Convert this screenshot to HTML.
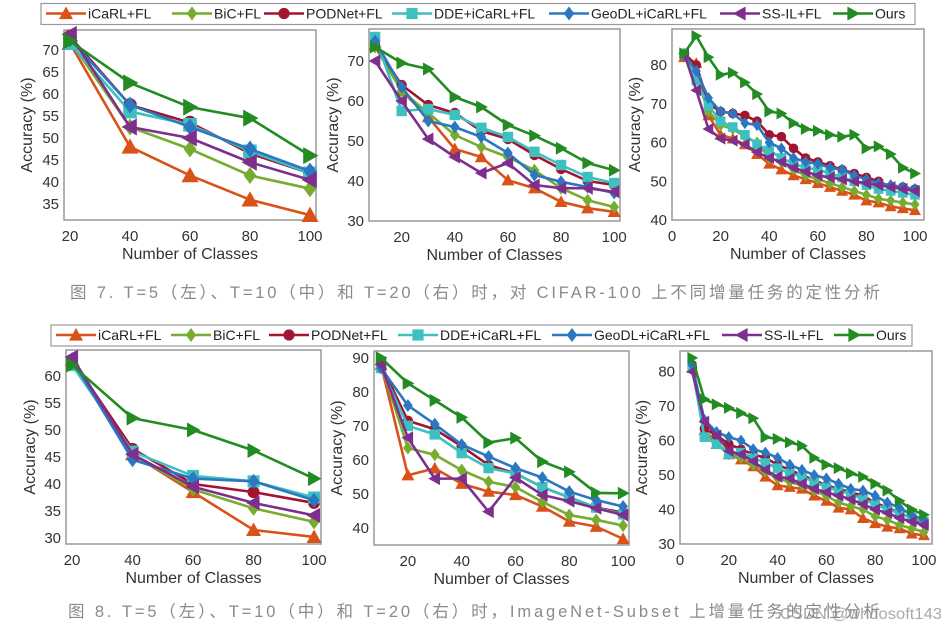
<!DOCTYPE html>
<html><head><meta charset="utf-8">
<style>
html,body{margin:0;padding:0;background:#fff;}
svg{display:block;font-family:"Liberation Sans",Arial,sans-serif;}
</style></head>
<body>
<svg id="fig" width="952" height="630" viewBox="0 0 952 630" xmlns="http://www.w3.org/2000/svg"></svg>
<script>
// ---- data: x categories ----
const x5 = [20,40,60,80,100];
const x10 = [10,20,30,40,50,60,70,80,90,100];
const x20 = [5,10,15,20,25,30,35,40,45,50,55,60,65,70,75,80,85,90,95,100];
const seriesNames = ["iCaRL+FL","BiC+FL","PODNet+FL","DDE+iCaRL+FL","GeoDL+iCaRL+FL","SS-IL+FL","Ours"];

// ---- Fig 7 left (CIFAR-100, T=5) ----
const c5Icarl = [71.5,48,41.5,36,32.5];
const c5Bic = [72,52.5,47.5,41.5,38.5];
const c5Pod = [73,57.5,53.5,46.5,42];
const c5Dde = [71.5,56,53,47,42];
const c5Geo = [72.5,57.5,52.5,47.5,42.5];
const c5Ss = [73.5,52.5,50,44.5,40.5];
const c5Ours = [72,62.5,57,54.5,46];
// ---- Fig 7 middle (T=10) ----
const c10Icarl = [74,62.5,56,48,46,40.2,38.2,34.8,33.2,32.3];
const c10Bic = [73.5,62.5,57,51.5,48.5,46,42.7,38.2,35.2,33.5];
const c10Pod = [74,64,59,57,52.5,50.5,46.5,43,40,39];
const c10Dde = [76,57.5,58,56.5,53.3,51,47.3,44,41,39.5];
const c10Geo = [75,63.5,55,53.5,51,47,41.5,39.8,38.5,37];
const c10Ss = [70,60,50.5,46,42,44.5,39,38.2,38.2,37.3];
const c10Ours = [73.5,69.5,68,61,58.5,54,51.3,48.2,44.5,42.7];
// ---- Fig 7 right (T=20) ----
const c20Icarl = [82,80.5,67,62,61,59.5,57,54.5,53,51.5,50.5,49.5,48.5,47.5,46.5,45,44.5,43.5,43,42.5];
const c20Bic = [83,77,68,64.5,63.5,61.5,60,56,55,53,51.5,50.5,49.5,48.5,47.5,46.5,45.5,45,44.5,44];
const c20Pod = [83,80,70,68,67.5,67,65.5,62,61.5,58.5,56,55,54,53,52,51,50,48.5,48.5,48];
const c20Dde = [83,76,69.5,65.5,64,62,59.5,58,56,54.5,53.5,53,52,51,50,49,48,47.5,47,46.5];
const c20Geo = [82.5,78.5,71.5,68,67.5,65,64.5,60,58.5,56,55,54.5,53.5,53,51.5,50.5,49.5,49,48.5,48];
const c20Ss = [83,73.5,63.5,61,60.5,59.5,57.5,56,55,53.5,52.5,51.5,51,50.5,50,49.5,49,48.5,48,47.5];
const c20Ours = [83,87.5,82,77.5,78,75.5,72.5,68,67.5,65,63.5,63,62,61.5,62,58.5,59,57,53.5,52];
// ---- Fig 8 left (ImageNet-Subset, T=5) ----
const i5Icarl = [63,45.5,38.5,31.5,30.2];
const i5Bic = [63,45.5,39,35.5,33];
const i5Pod = [63,46.5,40,38.5,36.5];
const i5Dde = [62,46,41.5,40.5,37.5];
const i5Geo = [63,44.5,41,40.5,37];
const i5Ss = [63.5,45.5,39.5,36.5,34.2];
const i5Ours = [62,52.2,50,46.2,41];
// ---- Fig 8 middle (T=10) ----
const i10Icarl = [88,55.5,57.5,53,50.7,49.7,46.3,41.9,40.4,36.8];
const i10Bic = [88,63.5,61.5,57,53.6,52,47.7,43.8,42.4,40.7];
const i10Pod = [88,71.5,69,64,58.5,56,52,49,46,44.5];
const i10Dde = [87,70,67.5,62,57.6,56,52,49,46,44];
const i10Geo = [87,76,70.5,64.5,61,57.6,54.8,50.7,48.2,46.3];
const i10Ss = [88,66.5,54.5,54.5,44.8,54.8,49.7,47.9,45.8,43.8];
const i10Ours = [90,82.5,77.5,72.5,65.1,66.4,59.5,56.5,50.3,50.2];
// ---- Fig 8 right (T=20) ----
const i20Icarl = [81,63,59,56,54.5,52.5,49.5,47,46.5,46,44,42.5,40.5,40,37.5,36,35,34.5,33,32.5];
const i20Bic = [81,63,59.5,56,55,53,51,49,48,47,45.5,44,42,41,40,38,37,35.5,34.5,33.5];
const i20Pod = [82,63.5,61.5,59,57.5,56,55,53,51.5,50,48.5,47,46,45,44,42,40.5,39,37.5,36];
const i20Dde = [81,61,59,56,56.5,55,53.5,52,50.5,49.5,48,46.5,45.5,44.5,43,41.5,40,39,37.5,36.5];
const i20Geo = [82,66,62.5,61,60,57.5,56.5,55,53,51.5,50,49,47.5,46,45.5,44,42,40.5,38.5,37];
const i20Ss = [80,65.5,61.5,57,56,54,51.5,49.5,49,47.5,46,45,44,43,41.5,40,39,37.5,36.5,35.5];
const i20Ours = [84,72,70.5,69.5,68,66.5,61,60.5,59.5,58.5,55,53,52,50.5,49.5,47.5,45.5,42.5,40,38.5];

// ---- tick labels ----
const ticksY_c5 = [35,40,45,50,55,60,65,70];
const ticksY_c10 = [30,40,50,60,70];
const ticksY_c20 = [40,50,60,70,80];
const ticksY_i5 = [30,35,40,45,50,55,60];
const ticksY_i10 = [40,50,60,70,80,90];
const ticksY_i20 = [30,40,50,60,70,80];
const ticksX_a = [20,40,60,80,100];
const ticksX_b = [0,20,40,60,80,100];

// ---- styles ----
const colors = ["#d95319","#77ac30","#a2142f","#3cc0c0","#2b77c0","#7e2f8e","#228b22"];
const markers = ["tri-up","diamond","circle","square","diamond","tri-left","tri-right"];

const NS = "http://www.w3.org/2000/svg";
const svg = document.getElementById("fig");
function mk(tag, attrs, parent){
  const e = document.createElementNS(NS, tag);
  for (const k in attrs) e.setAttribute(k, attrs[k]);
  (parent||svg).appendChild(e);
  return e;
}
function marker(type, cx, cy, s, color, parent){
  let e;
  if (type==="circle") e = mk("circle",{cx:cx,cy:cy,r:s*0.8,fill:color},parent);
  else if (type==="square") e = mk("rect",{x:cx-s*0.8,y:cy-s*0.8,width:s*1.6,height:s*1.6,fill:color},parent);
  else {
    let p;
    if (type==="tri-up") p=[[cx,cy-s],[cx+s,cy+s*0.8],[cx-s,cy+s*0.8]];
    else if (type==="diamond") p=[[cx,cy-s],[cx+s*0.75,cy],[cx,cy+s],[cx-s*0.75,cy]];
    else if (type==="tri-left") p=[[cx-s,cy],[cx+s*0.8,cy-s],[cx+s*0.8,cy+s]];
    else p=[[cx+s,cy],[cx-s*0.8,cy-s],[cx-s*0.8,cy+s]];
    e = mk("polygon",{points:p.map(q=>q.join(",")).join(" "),fill:color},parent);
  }
  
  
  return e;
}

function panel(cfg){
  const g = mk("g",{});
  
  
  const sx = v => cfg.L + (v-cfg.x0)/(cfg.x1-cfg.x0)*(cfg.R-cfg.L);
  const sy = v => cfg.B - (v-cfg.y0)/(cfg.y1-cfg.y0)*(cfg.B-cfg.T);
  const frame = mk("rect",{x:cfg.L,y:cfg.T,width:cfg.R-cfg.L,height:cfg.B-cfg.T,fill:"#fff",stroke:"#999","stroke-width":1.5},g);
  
  
  cfg.yt.forEach(v=>{
    const t = mk("text",{x:cfg.L-5,y:sy(v)+5,"text-anchor":"end","font-size":15,fill:"#333"},g);
    t.textContent = v;
    
    
  });
  cfg.xt.forEach(v=>{
    const t = mk("text",{x:sx(v),y:cfg.B+21,"text-anchor":"middle","font-size":15,fill:"#333"},g);
    t.textContent = v;
    
    
  });
  const xt = mk("text",{x:(cfg.L+cfg.R)/2,y:cfg.B+39,"text-anchor":"middle","font-size":16,fill:"#333"},g);
  xt.textContent = "Number of Classes";
  
  
  const yc = (cfg.T+cfg.B)/2;
  const yt = mk("text",{x:cfg.yx,y:yc,"text-anchor":"middle","font-size":16,fill:"#333",transform:`rotate(-90 ${cfg.yx} ${yc})`,"dominant-baseline":"middle"},g);
  yt.textContent = "Accuracy (%)";
  
  
  cfg.series.forEach((vals,i)=>{
    const sg = mk("g",{},g);
    
    
    const pts = vals.map((v,j)=>sx(cfg.xs[j])+","+sy(v)).join(" ");
    const pl = mk("polyline",{points:pts,fill:"none",stroke:colors[i],"stroke-width":2.6,"stroke-linejoin":"round"},sg);
    
    
    vals.forEach((v,j)=>marker(markers[i],sx(cfg.xs[j]),sy(v),cfg.ms,colors[i],sg));
  });
}

function legend(y, L, R, pos, name){
  const g = mk("g",{});
  
  
  const box = mk("rect",{x:L,y:y-10,width:R-L,height:21,fill:"#fff",stroke:"#999","stroke-width":1.2},g);
  
  
  seriesNames.forEach((n,i)=>{
    const eg = mk("g",{},g);
    
    
    const x = pos[i];
    mk("line",{x1:x,y1:y,x2:x+40,y2:y,stroke:colors[i],"stroke-width":2.6},eg);
    marker(markers[i],x+20,y,7,colors[i],eg);
    const t = mk("text",{x:x+42,y:y+5,"font-size":14,fill:"#222"},eg);
    t.textContent = n;
  });
}

const legPos = [46,172,264,392,549,720,833];
legend(13.5, 41, 915, legPos, "legend-top");
legend(335, 51, 912, [56,171,269,398,552,722,834], "legend-bottom");

panel({name:"cifar-t5-chart",L:64,R:316,T:30,B:220,x0:18,x1:102,y0:31.4,y1:74.5,xs:x5,yt:ticksY_c5,xt:ticksX_a,yx:28,ms:8.5,
  series:[c5Icarl,c5Bic,c5Pod,c5Dde,c5Geo,c5Ss,c5Ours]});
panel({name:"cifar-t10-chart",L:369,R:620,T:29,B:221,x0:7.7,x1:102.2,y0:30,y1:78,xs:x10,yt:ticksY_c10,xt:ticksX_a,yx:334,ms:6.5,
  series:[c10Icarl,c10Bic,c10Pod,c10Dde,c10Geo,c10Ss,c10Ours]});
panel({name:"cifar-t20-chart",L:672,R:924,T:29,B:220,x0:0,x1:103.7,y0:40,y1:89.3,xs:x20,yt:ticksY_c20,xt:ticksX_b,yx:636,ms:6,
  series:[c20Icarl,c20Bic,c20Pod,c20Dde,c20Geo,c20Ss,c20Ours]});
panel({name:"imagenet-t5-chart",L:66,R:321,T:350,B:544,x0:18,x1:102.3,y0:28.9,y1:64.8,xs:x5,yt:ticksY_i5,xt:ticksX_a,yx:31,ms:7.5,
  series:[i5Icarl,i5Bic,i5Pod,i5Dde,i5Geo,i5Ss,i5Ours]});
panel({name:"imagenet-t10-chart",L:374,R:629,T:351,B:545,x0:7.4,x1:102.2,y0:35,y1:92,xs:x10,yt:ticksY_i10,xt:ticksX_a,yx:338,ms:6.5,
  series:[i10Icarl,i10Bic,i10Pod,i10Dde,i10Geo,i10Ss,i10Ours]});
panel({name:"imagenet-t20-chart",L:680,R:932,T:351,B:544,x0:0,x1:103.3,y0:30,y1:86,xs:x20,yt:ticksY_i20,xt:ticksX_b,yx:643,ms:6,
  series:[i20Icarl,i20Bic,i20Pod,i20Dde,i20Geo,i20Ss,i20Ours]});

const cap1 = mk("text",{x:70,y:298,"font-size":16.5,fill:"#8a8a8a",textLength:810,lengthAdjust:"spacing","font-family":"\"Liberation Sans\",\"Noto Sans CJK SC\",sans-serif"});
cap1.textContent = "图 7. T=5（左）、T=10（中）和 T=20（右）时，对 CIFAR-100 上不同增量任务的定性分析";


const cap2 = mk("text",{x:68,y:617,"font-size":16.5,fill:"#8a8a8a",textLength:812,lengthAdjust:"spacing","font-family":"\"Liberation Sans\",\"Noto Sans CJK SC\",sans-serif"});
cap2.textContent = "图 8. T=5（左）、T=10（中）和 T=20（右）时，ImageNet-Subset 上增量任务的定性分析";


const wm = mk("text",{x:780,y:619,"font-size":16,fill:"#9a9a9a","fill-opacity":0.85,textLength:162,lengthAdjust:"spacingAndGlyphs"});
wm.textContent = "CSDN @whdosoft143";


</script>
</body></html>
